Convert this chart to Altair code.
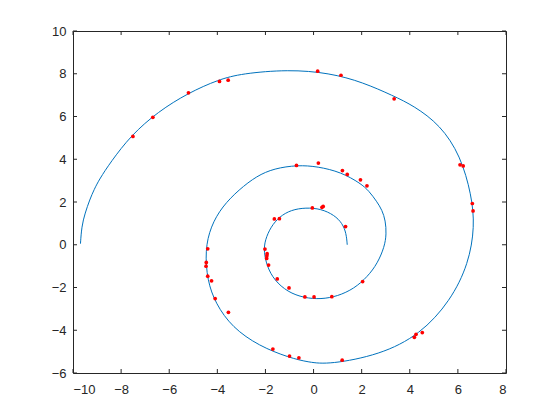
import altair as alt
import pandas as pd

# Spiral curve, points (in order along the curve)
spiral_x = [1.40, 1.36, 1.20, 0.86, 0.31, -0.32, -0.94, -1.42, -1.77, -2.02,
            -2.07, -1.93, -1.63, -1.08, -0.39, 0.31, 1.00, 1.69, 2.24, 2.66,
            2.95, 3.03, 2.99, 2.85, 2.63, 2.30, 1.97, 1.14, 0.17, -0.66, -1.64,
            -2.36, -3.10, -3.80, -4.28, -4.51, -4.42, -4.07, -3.38, -2.26, -1.02,
            -0.20, 0.66, 2.76, 4.43, 5.69, 6.45, 6.70, 6.57, 6.11, 5.27,
            4.17, 3.31, 2.05, 0.66, -1.06, -2.98, -3.95, -5.21, -6.46, -7.59,
            -8.44, -8.90, -9.12, -9.30, -9.50, -9.64, -9.69]
spiral_y = [0.00, 0.53, 1.00, 1.39, 1.68, 1.74, 1.63, 1.31, 0.85, 0.22,
            -0.33, -1.03, -1.66, -2.21, -2.49, -2.55, -2.41, -2.05, -1.50, -0.87,
            -0.09, 0.50, 1.13, 1.62, 2.02, 2.52, 2.86, 3.40, 3.66, 3.73, 3.57,
            3.22, 2.58, 1.79, 0.85, -0.25, -1.67, -2.76, -3.87, -4.74, -5.28,
            -5.50, -5.60, -5.15, -4.20, -2.63, -0.88, 0.86, 2.32, 4.17, 5.60,
            6.50, 6.97, 7.60, 8.04, 8.20, 8.01, 7.73, 7.10, 6.23, 5.12,
            3.86, 3.07, 2.59, 2.12, 1.48, 0.85, 0.05]

# Red sample points
dot_x = [-7.51, -6.68, -5.20, -3.91, -3.55,
         0.17, 1.14, 3.35, 6.09, 6.22,
         -0.71, 0.20, 1.20, 1.40, 1.95, 2.22,
         -4.40, -4.46, -4.47, -4.40, -4.24, -4.09, -3.54, -1.69,
         -1.63, -1.42, -2.02, -1.93, -1.94, -1.95, -1.87, -1.51, -1.02,
         -0.05, 0.35, 0.40, 1.33, -0.36, 0.02, 0.76, 2.04,
         6.60, 6.63, 4.19, 4.26, 4.52, -1.00, -0.61, 1.19]
dot_y = [5.07, 5.96, 7.11, 7.64, 7.70,
         8.12, 7.93, 6.83, 3.74, 3.69,
         3.71, 3.82, 3.47, 3.29, 3.04, 2.76,
         -0.19, -0.83, -1.00, -1.47, -1.69, -2.52, -3.16, -4.88,
         1.21, 1.22, -0.20, -0.42, -0.52, -0.64, -0.95, -1.60, -2.02,
         1.72, 1.75, 1.79, 0.85, -2.44, -2.44, -2.43, -1.72,
         1.93, 1.58, -4.33, -4.19, -4.11, -5.21, -5.29, -5.40]

x_ticks = [-10, -8, -6, -4, -2, 0, 2, 4, 6, 8]
y_ticks = [-6, -4, -2, 0, 2, 4, 6, 8, 10]

W, H = 433, 342
TL = 4
AX = "#262626"

spiral_df = pd.DataFrame({"x": spiral_x, "y": spiral_y, "i": range(len(spiral_x))})
dots_df = pd.DataFrame({"x": dot_x, "y": dot_y})
xt_df = pd.DataFrame({"x": x_ticks})
yt_df = pd.DataFrame({"y": y_ticks})

xscale = alt.Scale(domain=[-10, 8], nice=False, zero=False)
yscale = alt.Scale(domain=[-6, 10], nice=False, zero=False)

axis_common = dict(title=None, grid=False, domain=False, ticks=False, tickSize=0,
                   labelFont="Liberation Sans", labelFontSize=13, labelColor=AX)
xaxis = alt.Axis(values=x_ticks, labelPadding=10, **axis_common)
yaxis = alt.Axis(values=y_ticks, labelPadding=7, **axis_common)

X = alt.X("x:Q", scale=xscale, axis=xaxis)
Y = alt.Y("y:Q", scale=yscale, axis=yaxis)

line = alt.Chart(spiral_df).mark_line(
    interpolate="basis", color="#0072BD", strokeWidth=1
).encode(x=X, y=Y, order="i:Q")

dots = alt.Chart(dots_df).mark_circle(color="#FF0000", size=14, opacity=1).encode(x=X, y=Y)

tb = alt.Chart(xt_df).mark_rule(color=AX, strokeWidth=1).encode(
    x=X, y=alt.value(H), y2=alt.value(H - TL))
tt = alt.Chart(xt_df).mark_rule(color=AX, strokeWidth=1).encode(
    x=X, y=alt.value(0), y2=alt.value(TL))
tlft = alt.Chart(yt_df).mark_rule(color=AX, strokeWidth=1).encode(
    y=Y, x=alt.value(0), x2=alt.value(TL))
trgt = alt.Chart(yt_df).mark_rule(color=AX, strokeWidth=1).encode(
    y=Y, x=alt.value(W - TL), x2=alt.value(W))

chart = alt.layer(line, dots, tb, tt, tlft, trgt).properties(
    width=W, height=H,
    autosize=alt.AutoSizeParams(type="none"),
    padding={"left": 65, "top": 23, "right": 20, "bottom": 30},
    background="white",
).configure_view(stroke=AX, strokeWidth=1)

chart.save("out.html", embed_options={"renderer": "svg", "actions": False})
